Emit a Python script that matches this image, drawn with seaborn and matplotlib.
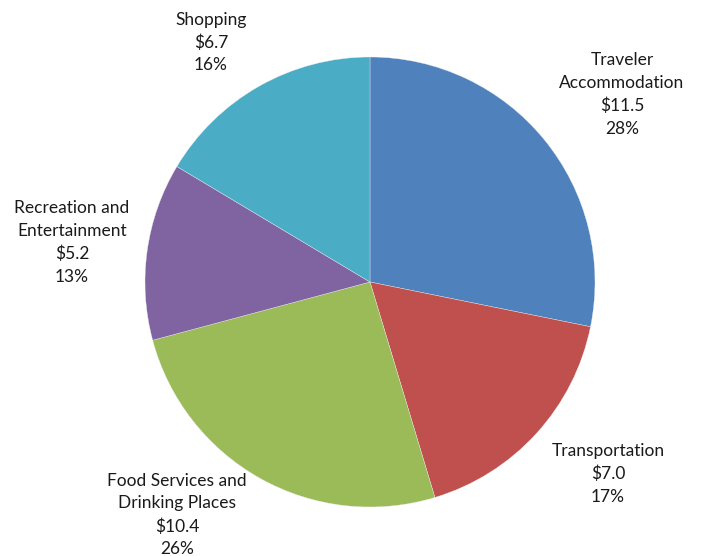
import numpy as np
import matplotlib
matplotlib.use('Agg')
import matplotlib.pyplot as plt
import seaborn as sns

sns.set_style('white')
plt.rcParams['font.family'] = ['Lato', 'DejaVu Sans']
plt.rcParams['font.size'] = 12.5

categories = ['Traveler\nAccommodation', 'Transportation', 'Food Services and\nDrinking Places',
              'Recreation and\nEntertainment', 'Shopping']
spending = [11.5, 7.0, 10.4, 5.2, 6.7]
shares = [28, 17, 26, 13, 16]
colors = ['#4F81BD', '#C0504D', '#9BBB59', '#8064A2', '#4BACC6']

labels = [f'{c}\n${v:.1f}\n{p}%' for c, v, p in zip(categories, spending, shares)]

# label block centres, in pie radii
label_pos = [(1.12, 0.833), (1.058, -0.853), (-0.858, -1.036), (-1.324, 0.176), (-0.707, 1.064)]

fig = plt.figure(figsize=(7.01, 5.56), dpi=100)
W, H = 701, 556
cx, cy, r = 370, 282, 225
ax = fig.add_axes([(cx - r) / W, (H - cy - r) / H, 2 * r / W, 2 * r / H])

wedges, _ = ax.pie(spending, colors=colors, startangle=90, counterclock=False,
                   wedgeprops=dict(linewidth=0.25, edgecolor='#eeeeee'))
for lab, (x, y) in zip(labels, label_pos):
    ax.text(x, y, lab, ha='center', va='center', linespacing=1.5,
            color='#1a1a1a', clip_on=False)

ax.set_xlim(-1, 1)
ax.set_ylim(-1, 1)
ax.set_aspect('equal')
ax.axis('off')

plt.savefig('out.png', dpi=100)
